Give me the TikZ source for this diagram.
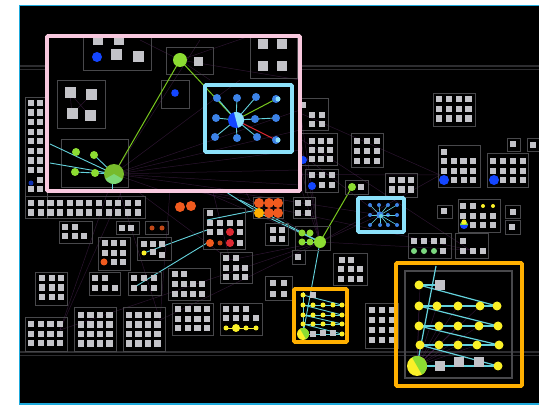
\documentclass[tikz,border=0pt]{standalone}
\usepackage{xcolor}
\usepackage{tikz}
\usetikzlibrary{calc}
\definecolor{scrframe}{RGB}{30,170,220}
\definecolor{pinkframe}{RGB}{248,200,222}
\definecolor{cyanframe}{RGB}{140,225,250}
\definecolor{orgframe}{RGB}{255,175,0}
\definecolor{sqgray}{RGB}{195,195,200}
\definecolor{grpgray}{RGB}{72,72,75}
\definecolor{railgray}{RGB}{45,45,48}
\definecolor{ndgreen}{RGB}{140,220,50}
\definecolor{ndblue}{RGB}{20,70,255}
\definecolor{ndltblue}{RGB}{60,130,230}
\definecolor{ndyellow}{RGB}{250,240,40}
\definecolor{ndorange}{RGB}{240,90,30}
\definecolor{ndred}{RGB}{220,40,50}
\definecolor{lncyan}{RGB}{100,210,220}
\definecolor{lngreen}{RGB}{120,200,30}
\definecolor{lnpurple}{RGB}{95,45,105}
\tikzset{
  grpbox/.style={draw=grpgray, line width=0.9pt},
  sqfill/.style={fill=sqgray},
  cyanln/.style={draw=lncyan, line width=0.9pt},
  greenln/.style={draw=lngreen, line width=1pt},
  purpln/.style={draw=lnpurple, line width=0.5pt, opacity=0.45},
  rail/.style={draw=railgray, line width=1.2pt},
  hlframe/.style={line width=3.8pt, rounded corners=1pt}
}
% one small square at x,y
\newcommand{\gsq}[2]{\fill[sqfill] ({#1-3.1},{#2-3.1}) rectangle ++(6.2,6.2);}
% bigger square at x,y with side #3
\newcommand{\bsq}[3]{\fill[sqfill] ({#1-#3/2},{#2-#3/2}) rectangle ++(#3,#3);}
% grid of squares: x y cols rows step
\newcommand{\sqgrid}[5]{\foreach \i in {1,...,#3}{\foreach \j in {1,...,#4}{%
  \gsq{#1+(\i-1)*#5}{#2+(\j-1)*#5}}}}

\begin{document}
\begin{tikzpicture}[x=1pt, y=-1pt]
  \useasboundingbox (0,0) rectangle (539,406);
  \fill[white] (0,0) rectangle (539,406);
  \fill[black] (19,6) rectangle (539,404);

  % rails
  \draw[rail] (19,66) -- (539,66);
  \draw[rail] (19,69.5) -- (539,69.5);
  \draw[rail] (19,352) -- (539,352);
  \draw[rail] (19,355.5) -- (539,355.5);

  % faint purple links
  \foreach \a/\b in {114/174, 180/60, 320/242}{
    \foreach \c/\d in {300/110, 300/135, 300/165, 300/185, 250/200, 200/190, 380/215, 440/175, 470/250, 230/260, 160/320, 60/330}
      \draw[purpln] (\a,\b) -- (\c,\d);}
  \foreach \c/\d in {419/306, 437/306, 458/306, 480/306, 439/326, 458/326, 479/326, 439/345, 458/345, 477/345, 420/286}
    \draw[purpln] (417,366) -- (\c,\d);

  % cyan links in the middle
  \draw[cyanln] (223,190) -- (259,213) -- (320,242);
  \draw[cyanln] (240,200) -- (320,242);
  \draw[cyanln] (144,253) -- (207,230);
  \draw[cyanln] (133,288) -- (207,243);
  \draw[cyanln] (207,220) -- (257,210);
  \draw[cyanln] (320,242) -- (303,334);
  \draw[cyanln] (302,233) -- (320,242);
  \draw[cyanln] (302,242) -- (320,242);
  \draw[greenln] (320,242) -- (352,187);

  % left column and row under the pink frame
  \draw[grpbox] (25,97) rectangle (47,218);
  \draw[grpbox] (25,196) rectangle (145,218);
  \foreach \j in {0,...,9}{\gsq{40}{103+\j*9.6}}
  \foreach \j in {0,...,7,9}{\gsq{31}{103+\j*9.6}}
  \fill[ndblue!70!black] (31,183) circle (2.5);
  \foreach \k in {0,...,11}{\gsq{31+\k*9.7}{203}\gsq{31+\k*9.7}{212.5}}

  % lower left groups
  \draw[grpbox] (59,221) rectangle (92,243);
  \foreach \x/\y in {65/227, 75/227, 65/236, 75/236, 84/236}{\gsq{\x}{\y}}
  \draw[grpbox] (116,221) rectangle (139,234);
  \gsq{122}{228}\gsq{131}{228}
  \draw[grpbox] (145,221) rectangle (168,234);
  \fill[ndorange!80!black] (152,228) circle (2.5) (162,228) circle (2.5);
  \draw[grpbox] (98,237) rectangle (130,270);
  \foreach \x/\y in {105/243, 114/243, 123/243, 105/253, 114/253, 123/253, 114/262, 123/262}{\gsq{\x}{\y}}
  \fill[ndorange] (104,262) circle (3.5);
  \draw[grpbox] (137,237) rectangle (171,260);
  \foreach \x/\y in {144/244, 153/244, 162/244, 153/252, 162/255}{\gsq{\x}{\y}}
  \fill[ndyellow] (144,253) circle (2.5);
  \draw[grpbox] (203,208) rectangle (245,249);
  \foreach \x/\y in {210/213, 210/223, 220/223, 230/223, 240/223, 210/232, 220/232, 240/232, 240/243}{\gsq{\x}{\y}}
  \fill[ndred] (230,232) circle (4) (230,243) circle (4);
  \fill[ndorange] (210,243) circle (4);
  \fill[ndorange!80!black] (220,243) circle (2.5);
  \draw[grpbox] (220,252) rectangle (252,283);
  \foreach \x/\y in {226/258, 236/258, 226/268, 236/268, 245/268, 226/277, 236/277, 245/277}{\gsq{\x}{\y}}
  \draw[grpbox] (35,272) rectangle (67,305);
  \sqgrid{42}{278}{3}{3}{9.6}
  \draw[grpbox] (89,272) rectangle (120,295);
  \foreach \x/\y in {95/278, 105/278, 95/288, 105/288, 115/288}{\gsq{\x}{\y}}
  \draw[grpbox] (128,272) rectangle (161,295);
  \sqgrid{134}{278}{3}{2}{10}
  \draw[grpbox] (168,268) rectangle (210,300);
  \foreach \x/\y in {175/274, 184/274, 175/284, 184/284, 193/284, 202/284, 175/294, 184/294, 193/294, 202/294}{\gsq{\x}{\y}}
  \draw[grpbox] (25,317) rectangle (67,351);
  \sqgrid{31}{324}{4}{3}{9.7}
  \draw[grpbox] (74,307) rectangle (116,351);
  \sqgrid{81}{315}{4}{4}{9.5}
  \draw[grpbox] (123,307) rectangle (165,351);
  \sqgrid{129}{315}{4}{4}{9.5}
  \draw[grpbox] (172,303) rectangle (213,335);
  \sqgrid{178}{309}{4}{3}{9.7}
  \draw[grpbox] (220,303) rectangle (262,335);
  \foreach \x/\y in {226/309, 236/309, 246/309, 226/318, 236/318, 246/318, 256/318}{\gsq{\x}{\y}}
  \draw[draw=ndyellow, line width=0.8pt] (226,328) -- (256,328);
  \fill[ndyellow] (226,328) circle (2.5) (236,328) circle (4) (246,328) circle (2.5) (256,328) circle (2.5);

  % middle groups
  \fill[ndorange] (180,207) circle (5) (191,206) circle (5);
  \draw[grpbox] (253,197) rectangle (283,218);
  \fill[ndorange] (259,203) circle (5) (269,203) circle (5) (278,203) circle (5) (269,213) circle (5) (278,213) circle (5);
  \fill[orgframe] (259,213) circle (5);
  \draw[grpbox] (293,197) rectangle (315,218);
  \sqgrid{298}{203}{2}{2}{10}
  \draw[grpbox] (265,223) rectangle (288,245);
  \sqgrid{273}{230}{2}{2}{8.8}
  \draw[grpbox] (295,226) rectangle (330,250);
  \fill[ndgreen] (302,233) circle (3.5) (310,233) circle (3.5) (302,242) circle (3.5) (310,242) circle (3.5);
  \fill[ndgreen] (320,242) circle (6);
  \draw[grpbox] (292,250) rectangle (305,264);
  \gsq{298}{257}
  \draw[grpbox] (333,253) rectangle (367,285);
  \foreach \x/\y in {342/260, 351/260, 341/269, 351/269, 360/269, 341/279, 351/279, 360/279}{\gsq{\x}{\y}}
  \draw[grpbox] (265,276) rectangle (292,300);
  \sqgrid{273}{283}{2}{2}{11}
  \draw[grpbox] (365,303) rectangle (398,348);
  \sqgrid{372}{310}{3}{4}{10}
  \draw[grpbox] (345,180) rectangle (368,194);
  \fill[ndgreen] (352,187) circle (4);
  \gsq{361}{187}

  % upper right groups
  \draw[grpbox] (433,93) rectangle (475,126);
  \sqgrid{439}{99}{4}{3}{9.8}
  \draw[grpbox] (300,98) rectangle (328,130);
  \foreach \x/\y in {303/105, 312/115, 322/115, 312/124, 322/124}{\gsq{\x}{\y}}
  \draw[grpbox] (300,133) rectangle (337,165);
  \sqgrid{312}{141}{3}{3}{9}
  \fill[ndblue] (303,160) circle (4);
  \draw[grpbox] (351,133) rectangle (383,167);
  \sqgrid{357}{141}{3}{3}{10}
  \draw[grpbox] (305,169) rectangle (338,192);
  \foreach \x/\y in {312/175, 322/175, 332/175, 322/185, 332/185}{\gsq{\x}{\y}}
  \fill[ndblue] (312,186) circle (4);
  \draw[grpbox] (385,173) rectangle (417,197);
  \sqgrid{392}{180}{3}{2}{9.5}
  \draw[grpbox] (438,145) rectangle (480,187);
  \gsq{444}{152}
  \sqgrid{444}{161}{4}{2}{9.7}
  \foreach \x in {454,464,473}{\gsq{\x}{180}}
  \fill[ndblue] (444,180) circle (5);
  \draw[grpbox] (487,153) rectangle (528,187);
  \sqgrid{493}{161}{4}{2}{10}
  \foreach \x in {503,513,523}{\gsq{\x}{180}}
  \fill[ndblue] (494,180) circle (5);
  \draw[grpbox] (507,138) rectangle (520,151);
  \gsq{513}{144}
  \draw[grpbox] (527,138) rectangle (539,151);
  \gsq{533}{145}
  \draw[grpbox] (458,199) rectangle (500,232);
  \foreach \x/\y in {463/206, 473/206, 463/216, 473/216, 483/216, 493/216, 473/225, 483/225, 493/225}{\gsq{\x}{\y}}
  \fill[ndyellow] (483,206) circle (2) (493,206) circle (2);
  \fill[ndblue] (464,225) circle (4);
  \fill[ndgreen] (464,225) ++(-4,0) arc (180:360:4) -- cycle;
  \fill[ndyellow] (464,222) circle (2.5);
  \draw[grpbox] (437,205) rectangle (452,218);
  \gsq{444}{211}
  \draw[grpbox] (505,205) rectangle (520,218);
  \gsq{513}{212}
  \draw[grpbox] (505,220) rectangle (520,234);
  \gsq{512}{227}
  \draw[grpbox] (408,233) rectangle (451,258);
  \foreach \x/\y in {414/241, 424/241, 434/241, 443/241, 443/251}{\gsq{\x}{\y}}
  \fill[ndgreen!55!lncyan] (414,251) circle (3) (424,251) circle (3) (434,251) circle (3);
  \draw[grpbox] (455,233) rectangle (488,258);
  \foreach \x/\y in {463/241, 463/251, 473/251, 483/251}{\gsq{\x}{\y}}

  % small cyan-framed star
  \foreach \x/\y in {370/205, 379/205, 388/205, 397/205, 370/215, 388/215, 397/215, 370/225, 380/225, 388/225, 397/225}{
    \draw[cyanln, line width=0.6pt] (380,215) -- (\x,\y);
    \fill[ndltblue] (\x,\y) circle (2);}
  \fill[ndltblue] (380,215) circle (3.5);
  \fill[lncyan] (381,216) circle (2);
  \draw[cyanframe, hlframe] (358,198) rectangle (404,232);

  % small orange-framed ladder
  \draw[cyanln] (303,292) -- (303,334);
  \foreach \y in {305,315,324}{\draw[cyanln] (303,\y) -- (342,\y);}
  \draw[cyanln] (303,295) -- (342,305) (303,305) -- (342,315) (303,315) -- (342,324) (303,324) -- (342,334);
  \draw[cyanln] (303,334) -- (342,334);
  \foreach \y in {305,315,324}{\foreach \x in {303,313,323,333,342}{\fill[ndyellow] (\x,\y) circle (2.5);}}
  \fill[ndyellow] (303,295) circle (2.5);
  \bsq{313}{295}{6}
  \bsq{313}{334}{6} \bsq{323}{333}{6} \bsq{333}{333}{6}
  \fill[ndyellow] (342,334) circle (2.5);
  \fill[ndyellow] (303,334) circle (6);
  \fill[ndgreen] (303,334) ++(60:6) arc (60:-120:6) -- cycle;
  \draw[orgframe, hlframe] (294,289) rectangle (347,342);

  % large orange-framed ladder
  \draw[grpbox, line width=1.2pt] (405,271) rectangle (512,378);
  \draw[cyanln, line width=1.2pt] (436,266) -- (417,366);
  \draw[cyanln, line width=1.2pt] (419,285) -- (440,285);
  \draw[cyanln, line width=1.2pt] (419,306) -- (497,306) (419,326) -- (498,326) (420,345) -- (499,345) (417,366) -- (498,366);
  \draw[cyanln, line width=1.2pt] (419,285) -- (497,306) (419,306) -- (498,326) (419,326) -- (499,345) (420,345) -- (498,366);
  \fill[ndyellow] (419,285) circle (4.5);
  \bsq{440}{285}{10}
  \foreach \x/\y in {419/306, 437/306, 458/306, 480/306, 497/306, 419/326, 439/326, 458/326, 479/326, 498/326, 420/345, 439/345, 458/345, 477/345, 499/345, 498/366}
    {\fill[ndyellow] (\x,\y) circle (4.5);}
  \bsq{440}{366}{10} \bsq{459}{362}{10} \bsq{479}{362}{10}
  \fill[ndyellow] (417,366) circle (10);
  \fill[ndgreen] (417,366) ++(60:10) arc (60:-120:10) -- cycle;
  \draw[orgframe, hlframe] (396,263) rectangle (522,386);

  % pink-framed zoom: inside
  \fill[black] (48,37) rectangle (299,191);
  \foreach \c/\d in {300/110, 300/130, 300/150, 300/170, 300/185, 240/80, 200/40, 160/190, 230/190}
    \draw[purpln] (114,174) -- (\c,\d);
  \foreach \c/\d in {250/36, 300/80, 140/40, 210/80}
    \draw[purpln] (180,60) -- (\c,\d);
  \draw[grpbox] (83,36) rectangle (151,70);
  \bsq{98}{40}{10} \bsq{119}{40}{10}
  \bsq{116}{55}{11} \bsq{138}{57}{11}
  \fill[ndblue] (97,57) circle (5);
  \draw[grpbox] (166,47) rectangle (213,74);
  \bsq{198}{62}{9}
  \draw[grpbox] (161,80) rectangle (189,108);
  \fill[ndblue] (175,93) circle (3.8);
  \draw[grpbox] (57,80) rectangle (105,128);
  \draw[purpln] (70,93) -- (90,116) (91,95) -- (72,114) (70,93) -- (72,114);
  \bsq{70}{93}{11} \bsq{91}{95}{11} \bsq{72}{114}{11} \bsq{90}{116}{11}
  \draw[grpbox] (250,36) rectangle (297,78);
  \bsq{263}{44}{10} \bsq{282}{44}{10} \bsq{263}{66}{10} \bsq{282}{66}{10}
  \draw[grpbox] (61,139) rectangle (128,187);
  \draw[cyanln] (50,144) -- (114,174) (50,163) -- (114,174) (94,155) -- (114,174) (75,172) -- (95,173) -- (114,174);
  \draw[cyanln] (112,182) -- (112,193);
  \draw[greenln] (180,60) -- (114,174);
  \draw[greenln] (180,60) -- (236,120);
  \fill[ndgreen] (76,152) circle (4) (94,155) circle (4) (75,172) circle (4) (95,173) circle (4);
  \fill[ndgreen!85!black] (114,174) circle (10);
  \fill[ndgreen!60!lncyan] (114,174) -- ++(150:10) arc (150:30:10) -- cycle;
  \fill[ndgreen] (180,60) circle (7);
  % hub with spokes
  \foreach \x/\y in {217/98, 237/98, 256/97, 216/118, 255/119, 215/137, 237/138, 257/137, 276/118}
    {\draw[cyanln] (236,120) -- (\x,\y);}
  \draw[greenln] (236,120) -- (276,99);
  \draw[draw=ndred, line width=1pt] (236,120) -- (276,140);
  \foreach \x/\y in {217/98, 237/98, 256/97, 216/118, 255/119, 215/137, 237/138, 257/137, 276/118, 276/99, 276/140}
    {\fill[ndltblue] (\x,\y) circle (4);}
  \fill[cyanframe] (278,99) circle (2.5) (278,140) circle (2.5);
  \fill[ndblue] (236,120) circle (8);
  \fill[cyanframe] (236,120) -- ++(75:8) arc (75:-105:8) -- cycle;
  \draw[cyanframe, hlframe] (205,85) rectangle (292,152);
  \draw[pinkframe, hlframe] (47,36) rectangle (300,191);

  % screen frame
  \draw[scrframe, line width=1.5pt] (19,5.5) -- (539,5.5);
  \draw[scrframe, line width=1.5pt] (19.5,5) -- (19.5,404) -- (539,404);
\end{tikzpicture}
\end{document}
